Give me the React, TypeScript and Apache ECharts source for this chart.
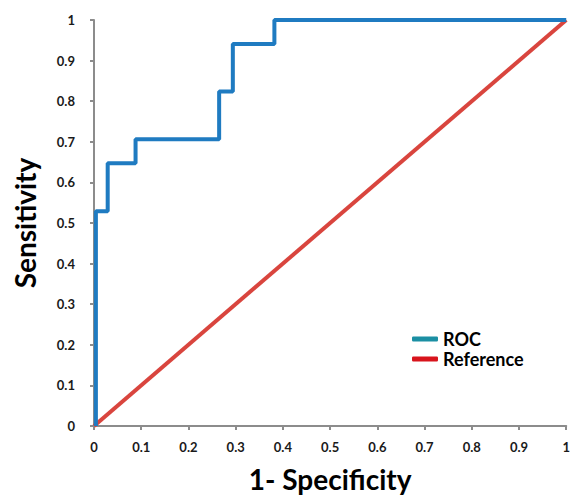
import React, { useEffect, useRef } from "react";
import * as echarts from "echarts";

const rocX = [0.004, 0.004, 0.029, 0.029, 0.088, 0.088, 0.265, 0.265, 0.294, 0.294, 0.382, 0.382, 1.0];
const rocY = [0, 0.529, 0.529, 0.647, 0.647, 0.706, 0.706, 0.824, 0.824, 0.941, 0.941, 1.0, 1.0];
const refX = [0, 1];
const refY = [0, 1];
const seriesNames = ["ROC", "Reference"];
const axisTitles = ["1- Specificity", "Sensitivity"];

const FONT = "Lato, 'Open Sans', sans-serif";

export default function App() {
  const ref = useRef<HTMLDivElement>(null);
  useEffect(() => {
    if (!ref.current) return;
    const chart = echarts.init(ref.current, undefined, { renderer: "svg" });
    const axisCommon = {
      type: "value",
      min: 0,
      max: 1,
      interval: 0.1,
      splitLine: { show: false },
      axisLine: { show: true, lineStyle: { color: "#8c8c8c", width: 2 } },
      axisTick: { show: true, length: 4, lineStyle: { color: "#8c8c8c", width: 2 } },
      nameLocation: "middle",
      nameTextStyle: { fontFamily: FONT, fontWeight: "bold", fontSize: 28, color: "#000" },
    };
    const labelStyle = {
      fontFamily: FONT,
      fontWeight: "bold",
      fontSize: 13,
      color: "#1a1a1a",
      formatter: (v: number) => String(Math.round(v * 10) / 10),
    };
    chart.setOption({
      animation: false,
      grid: { left: 94, right: 2, top: 20, bottom: 68 },
      xAxis: {
        ...axisCommon,
        name: axisTitles[0],
        nameGap: 39,
        axisLabel: { ...labelStyle, margin: 14 },
      },
      yAxis: {
        ...axisCommon,
        name: axisTitles[1],
        nameGap: 55,
        axisLabel: { ...labelStyle, margin: 19 },
      },
      legend: {
        orient: "vertical",
        left: 407,
        top: 325,
        padding: 5,
        itemWidth: 26,
        itemHeight: 5,
        itemGap: 2,
        icon: "roundRect",
        textStyle: { fontFamily: FONT, fontWeight: "bold", fontSize: 18, lineHeight: 17, color: "#000" },
        data: [
          { name: seriesNames[0], itemStyle: { color: "#1b8fa3" } },
          { name: seriesNames[1], itemStyle: { color: "#d8141c" } },
        ],
      },
      series: [
        {
          name: seriesNames[0],
          type: "line",
          data: rocX.map((x, i) => [x, rocY[i]]),
          showSymbol: false,
          symbol: "none",
          lineStyle: { color: "#1f7bc1", width: 4 },
          itemStyle: { color: "#1f7bc1" },
          z: 3,
        },
        {
          name: seriesNames[1],
          type: "line",
          data: refX.map((x, i) => [x, refY[i]]),
          showSymbol: false,
          symbol: "none",
          lineStyle: { color: "#d9453e", width: 4 },
          itemStyle: { color: "#d9453e" },
          z: 2,
        },
      ],
    });
    return () => chart.dispose();
  }, []);
  return <div ref={ref} style={{ width: 573, height: 498, position: "absolute", left: 0, top: 0 }} />;
}
